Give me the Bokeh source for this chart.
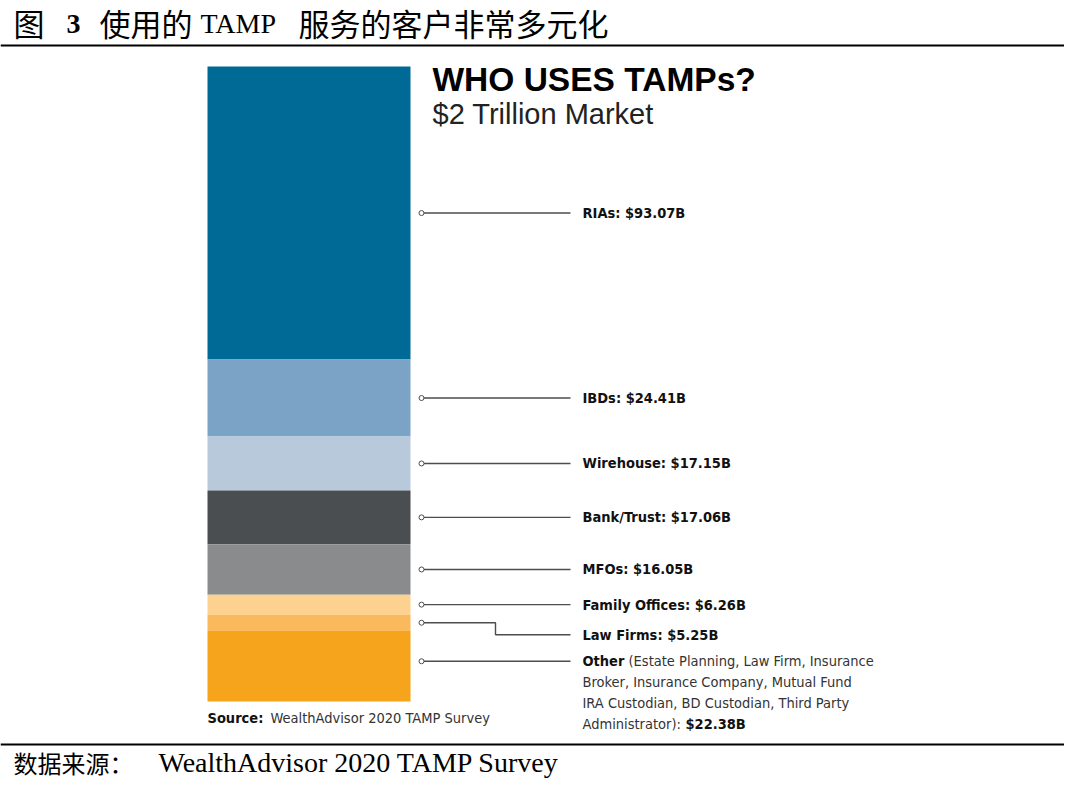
from bokeh.plotting import figure
from bokeh.models import Label
from bokeh.embed import file_html
from bokeh.resources import INLINE

# ---- data ----
categories = ["RIAs", "IBDs", "Wirehouse", "Bank/Trust", "MFOs", "Family Offices", "Law Firms", "Other"]
values = [93.07, 24.41, 17.15, 17.06, 16.05, 6.26, 5.25, 22.38]
colors = ["#006a96", "#7aa3c5", "#b8c9dc", "#4b4e51", "#8a8b8d", "#fdd291", "#f9b95c", "#f6a41b"]
other_detail = ["(Estate Planning, Law Firm, Insurance",
                "Broker, Insurance Company, Mutual Fund",
                "IRA Custodian, BD Custodian, Third Party",
                "Administrator): "]
fig_title = ["图", "3", "使用的", "TAMP", "服务的客户非常多元化"]
chart_title = "WHO USES TAMPs?"
chart_subtitle = "$2 Trillion Market"
source_inner = ("Source:", "WealthAdvisor 2020 TAMP Survey")
source_outer = ("数据来源：", "WealthAdvisor 2020 TAMP Survey")

# ---- layout ----
W, H = 1064, 781
total = sum(values)
BAR_TOP, BAR_BOT = 66, 701                  # canvas px from top
k = (BAR_BOT - BAR_TOP) / total             # px per $B
y_start = -(H - BAR_BOT) / k
y_end = total + BAR_TOP / k


def Y(py):
    """canvas px from top -> data y"""
    return total - (py - BAR_TOP) / k


tops, bottoms, acc = [], [], total
for v in values:
    tops.append(acc)
    bottoms.append(acc - v)
    acc -= v
mids = [(t + b) / 2 for t, b in zip(tops, bottoms)]

p = figure(width=W, height=H, x_range=(0, W), y_range=(y_start, y_end),
           x_axis_type=None, y_axis_type=None, toolbar_location=None,
           output_backend="svg", min_border=0)
p.outline_line_color = None
p.grid.visible = False
p.background_fill_color = "white"

BL, BR = 207, 410
p.quad(left=BL, right=BR, top=tops, bottom=bottoms, fill_color=colors, line_color=None)

# leader lines
DOT_X, LINE_END, LAB_X = 421, 570, 582
LEAD = "#4d4d4d"
CAT_FONT = "DejaVu Sans Condensed"
FS = "14.5px"
dot_y = list(mids)
lab_y = list(mids)
lf = categories.index("Law Firms")
ot = categories.index("Other")
lab_y[lf] = mids[lf] - 12 / k
dot_y[ot] = mids[ot] + 5 / k
lab_y[ot] = dot_y[ot]

for i, c in enumerate(categories):
    if i == lf:
        ex = 495
        p.line([DOT_X, ex, ex, LINE_END], [dot_y[i], dot_y[i], lab_y[i], lab_y[i]],
               line_color=LEAD, line_width=1.4)
    else:
        p.line([DOT_X, LINE_END], [dot_y[i], lab_y[i]], line_color=LEAD, line_width=1.4)
    if i == ot:
        p.add_layout(Label(x=LAB_X, y=lab_y[i], text="Other", text_font=CAT_FONT,
                           text_font_style="bold", text_font_size=FS,
                           text_baseline="middle", text_color="#111111"))
        for j, line in enumerate(other_detail):
            xx = LAB_X + 46 if j == 0 else LAB_X
            p.add_layout(Label(x=xx, y=lab_y[i] - 21 * j / k, text=line, text_font=CAT_FONT,
                               text_font_size=FS, text_baseline="middle",
                               text_color="#333333"))
        p.add_layout(Label(x=LAB_X + 103, y=lab_y[i] - 63 / k, text=f"${values[i]:.2f}B",
                           text_font=CAT_FONT, text_font_style="bold", text_font_size=FS,
                           text_baseline="middle", text_color="#111111"))
    else:
        p.add_layout(Label(x=LAB_X, y=lab_y[i], text=f"{c}: ${values[i]:.2f}B",
                           text_font=CAT_FONT, text_font_style="bold", text_font_size=FS,
                           text_baseline="middle", text_color="#111111"))

p.scatter(DOT_X, dot_y, size=5, marker="circle", fill_color="white",
          line_color=LEAD, line_width=1)

# chart titles
p.add_layout(Label(x=432, y=Y(79), text=chart_title, text_font="Liberation Sans",
                   text_font_style="bold", text_font_size="33.5px", text_baseline="middle",
                   text_color="#000000"))
p.add_layout(Label(x=432, y=Y(113), text=chart_subtitle, text_font="Liberation Sans",
                   text_font_size="29px", text_baseline="middle", text_color="#222222"))

# inner source
p.add_layout(Label(x=BL, y=Y(717), text=source_inner[0], text_font=CAT_FONT,
                   text_font_style="bold", text_font_size=FS, text_baseline="middle",
                   text_color="#111111"))
p.add_layout(Label(x=BL + 63, y=Y(717), text=source_inner[1], text_font=CAT_FONT,
                   text_font_size=FS, text_baseline="middle", text_color="#333333"))

# figure title (report style)
CJK = "Noto Sans CJK SC"
SERIF = "Liberation Serif"
parts = [(13, fig_title[0], CJK, "normal", "31px", 22),
         (66, fig_title[1], SERIF, "bold", "28px", 23),
         (99, fig_title[2], CJK, "normal", "31px", 22),
         (200, fig_title[3], SERIF, "normal", "28px", 23),
         (298, fig_title[4], CJK, "normal", "31px", 22)]
for x, t, f, s, fs, yy in parts:
    p.add_layout(Label(x=x, y=Y(yy), text=t, text_font=f, text_font_style=s,
                       text_font_size=fs, text_baseline="middle", text_color="#000000"))

# rules
p.segment(x0=0, x1=W, y0=Y(45), y1=Y(45), line_color="#000000", line_width=2)
p.segment(x0=0, x1=W, y0=Y(744), y1=Y(744), line_color="#000000", line_width=2)

# bottom source
sy = Y(762)
p.add_layout(Label(x=13, y=sy, text=source_outer[0], text_font=CJK, text_font_size="24px",
                   text_baseline="middle", text_color="#000000"))
p.add_layout(Label(x=158, y=sy, text=source_outer[1], text_font=SERIF, text_font_size="28px",
                   text_baseline="middle", text_color="#000000"))

open("out.html", "w").write(file_html(p, INLINE))
